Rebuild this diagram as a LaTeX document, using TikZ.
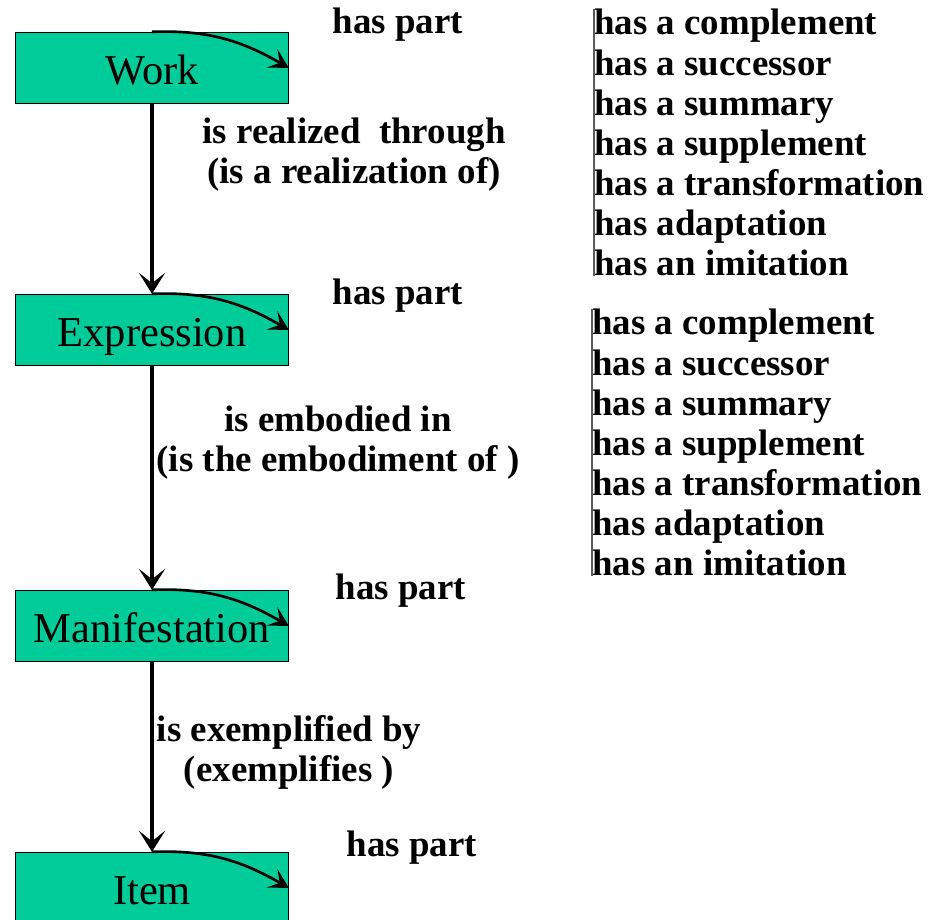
\documentclass[tikz,border=0pt]{standalone}
\usepackage{fontspec}
\setmainfont{Liberation Serif}
\usetikzlibrary{arrows.meta, positioning}
\definecolor{entitygreen}{RGB}{0,204,153}
\definecolor{linegray}{RGB}{90,90,90}
\tikzset{
  entity/.style={rectangle, draw=black, line width=0.8pt, fill=entitygreen,
    minimum width=5.45cm, minimum height=1.42cm, inner sep=0pt,
    text height=22pt, text depth=3.2pt, font=\fontsize{24.2}{28}\selectfont},
  rellabel/.style={align=center, inner sep=0pt,
    font=\fontsize{21}{22.8}\selectfont\bfseries},
  rellist/.style={align=left, inner sep=0pt, anchor=north west,
    font=\fontsize{21}{22.8}\selectfont\bfseries},
  arrow/.style={-{Stealth[length=12pt, width=15pt, inset=6pt]}, line width=1.8pt},
  partarrow/.style={-{Stealth[length=11pt, width=12pt, inset=5pt]}, line width=1.5pt},
}
\begin{document}
\begin{tikzpicture}[x=0.02cm, y=-0.02cm]
  \useasboundingbox (0,0) rectangle (941,920);

  \node[entity] (work)  at (152,68)  {Work};
  \node[entity] (expr)  at (152,330) {Expression};
  \node[entity] (manif) at (152,626) {Manifestation};
  \node[entity] (item)  at (152,888) {Item};

  \draw[arrow] (work) -- (expr);
  \draw[arrow] (expr) -- (manif);
  \draw[arrow] (manif) -- (item);

  \draw[partarrow] (work.north)  to[out=2, in=150] (work.east);
  \draw[partarrow] (expr.north)  to[out=2, in=150] (expr.east);
  \draw[partarrow] (manif.north) to[out=2, in=150] (manif.east);
  \draw[partarrow] (item.north)  to[out=2, in=150] (item.east);

  \node[rellabel] (realized)    at (354,155) {is realized~~through\\(is a realization of)};
  \node[rellabel] (embodied)    at (338,443) {is embodied in\\(is the embodiment of )};
  \node[rellabel] (exemplified) at (289,752) {is exemplified by\\(exemplifies )};

  \node[rellabel] (workpart)  at (398,25)  {has part};
  \node[rellabel] (exprpart)  at (398,296) {has part};
  \node[rellabel] (manifpart) at (401,591) {has part};
  \node[rellabel] (itempart)  at (412,848) {has part};

  \node[rellist] (worklist) at (594,9)
    {has a complement\\has a successor\\has a summary\\has a supplement\\
     has a transformation\\has adaptation\\has an imitation};
  \node[rellist] (exprlist) at (592,309)
    {has a complement\\has a successor\\has a summary\\has a supplement\\
     has a transformation\\has adaptation\\has an imitation};
  \draw[linegray, line width=0.6pt] (worklist.north west) -- (worklist.south west);
  \draw[linegray, line width=0.6pt] (exprlist.north west) -- (exprlist.south west);
\end{tikzpicture}
\end{document}
